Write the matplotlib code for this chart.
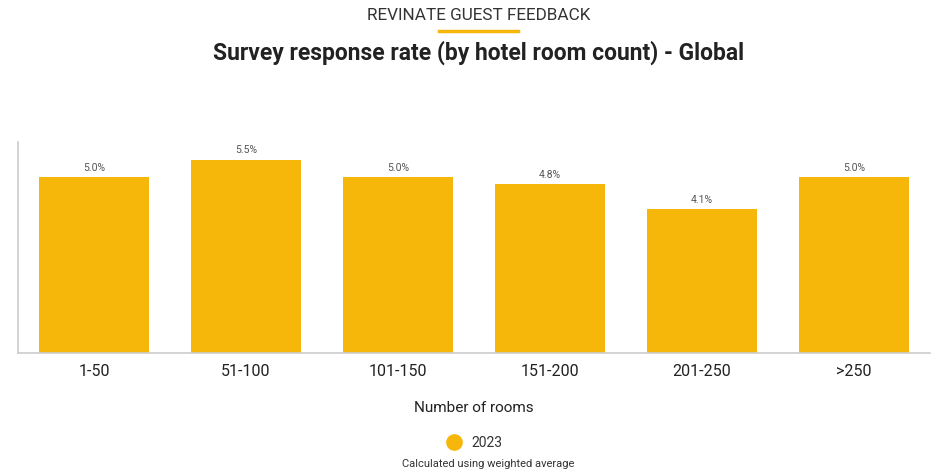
import matplotlib.pyplot as plt
from matplotlib.lines import Line2D

# survey response rate by hotel size, 2023
room_bands = ['1-50', '51-100', '101-150', '151-200', '201-250', '>250']
response_rate = [5.0, 5.5, 5.0, 4.8, 4.1, 5.0]
series_name = '2023'

BAR_COLOR = '#F7B70A'
TEXT_DARK = '#222222'
AXIS_GREY = '#cccccc'

plt.rcParams['font.family'] = ['Roboto', 'DejaVu Sans']

fig = plt.figure(figsize=(9.37, 4.73), dpi=100)
ax = fig.add_axes([18 / 937, 1 - 353 / 473, 912 / 937, 211 / 473])

x = range(len(room_bands))
bars = ax.bar(x, response_rate, width=0.72, color=BAR_COLOR, zorder=2)
for rect, val in zip(bars, response_rate):
    ax.text(rect.get_x() + rect.get_width() / 2, rect.get_height() + 0.12,
            f'{val:.1f}%', ha='center', va='bottom', fontsize=7.5, color='#555555')

ax.set_xlim(-0.5, len(room_bands) - 0.5)
ax.set_ylim(0, 6.0)
ax.set_xticks(list(x))
ax.set_xticklabels(room_bands, fontsize=11.5, color=TEXT_DARK)
ax.tick_params(axis='x', length=0, pad=8)
ax.set_yticks([])
for side in ('top', 'right'):
    ax.spines[side].set_visible(False)
for side in ('left', 'bottom'):
    ax.spines[side].set_color(AXIS_GREY)
    ax.spines[side].set_linewidth(1.2)

ax.set_xlabel('Number of rooms', fontsize=11, color=TEXT_DARK, labelpad=16)

# header, centred slightly right of the figure middle
head_x = 479 / 937
fig.text(head_x, 1 - 16 / 473, 'REVINATE GUEST FEEDBACK', ha='center', va='center',
         fontsize=12.3, color='#333333')
fig.add_artist(Line2D([439 / 937, 518 / 937], [1 - 31 / 473, 1 - 31 / 473],
                      color=BAR_COLOR, linewidth=2.5, transform=fig.transFigure))
fig.text(head_x, 1 - 53 / 473, 'Survey response rate (by hotel room count) - Global',
         ha='center', va='center', fontsize=16.5, fontweight='bold', color=TEXT_DARK)

# legend
leg_handle = Line2D([], [], marker='o', linestyle='none', markersize=11,
                    markerfacecolor=BAR_COLOR, markeredgecolor=BAR_COLOR)
fig.legend([leg_handle], [series_name], loc='center', bbox_to_anchor=(0.5025, 1 - 443 / 473),
           frameon=False, fontsize=10, handletextpad=0.25, labelcolor='#333333')

fig.text(488 / 937, 1 - 464 / 473, 'Calculated using weighted average', ha='center',
         va='center', fontsize=8, color='#333333')

fig.savefig('out.png', dpi=100)
